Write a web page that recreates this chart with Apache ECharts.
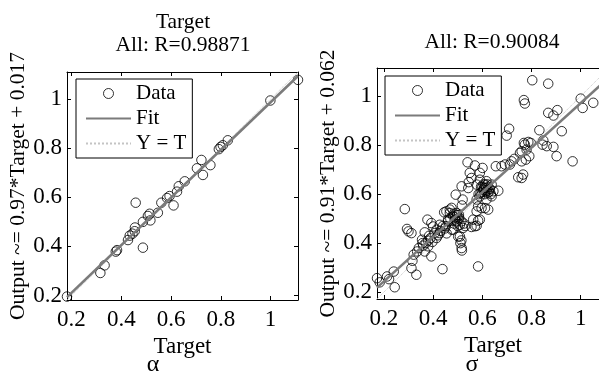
<!DOCTYPE html>
<html>
<head>
<meta charset="utf-8">
<script src="https://cdn.jsdelivr.net/npm/echarts@6.0.0/dist/echarts.min.js"></script>
<style>html,body{margin:0;padding:0;background:#fff}#char{width:599px;height:380px}</style>
</head>
<body>
<div id="char"></div>
<script>
// alpha (left panel)
var alphaTarget = [0.182, 0.316, 0.333, 0.378, 0.383, 0.427, 0.434, 0.445, 0.454, 0.455, 0.458, 0.487, 0.487, 0.507, 0.514, 0.517,
    0.547, 0.561, 0.584, 0.594, 0.610, 0.624, 0.631, 0.655, 0.704, 0.722, 0.728, 0.758, 0.792, 0.799, 0.808, 0.828, 0.999, 1.110];
var alphaOutput = [0.196, 0.292, 0.323, 0.379, 0.385, 0.426, 0.444, 0.452, 0.462, 0.477, 0.578, 0.395, 0.500, 0.524, 0.533, 0.506,
    0.537, 0.578, 0.597, 0.605, 0.567, 0.623, 0.645, 0.665, 0.718, 0.752, 0.691, 0.731, 0.796, 0.805, 0.812, 0.832, 0.994, 1.078];

// sigma (right panel)
var sigmaTarget = [0.172, 0.183, 0.213, 0.221, 0.240, 0.244, 0.285, 0.294, 0.300, 0.312, 0.312, 0.316, 0.332, 0.321, 0.335, 0.342,
    0.357, 0.355, 0.366, 0.366, 0.377, 0.380, 0.384, 0.389, 0.393, 0.393, 0.397, 0.400, 0.407, 0.414, 0.414, 0.420, 0.427, 0.427,
    0.438, 0.445, 0.448, 0.452, 0.455, 0.461, 0.468, 0.468, 0.475, 0.475, 0.482, 0.485, 0.489, 0.490, 0.492, 0.495, 0.498, 0.500,
    0.503, 0.506, 0.509, 0.509, 0.511, 0.515, 0.515, 0.516, 0.517, 0.517, 0.520, 0.522, 0.525, 0.530, 0.454, 0.461, 0.481, 0.502,
    0.516, 0.543, 0.545, 0.549, 0.540, 0.556, 0.563, 0.570, 0.570, 0.577, 0.577, 0.577, 0.583, 0.583, 0.583, 0.585, 0.590, 0.590,
    0.590, 0.595, 0.597, 0.601, 0.600, 0.604, 0.605, 0.610, 0.611, 0.611, 0.615, 0.617, 0.617, 0.620, 0.622, 0.624, 0.625, 0.631,
    0.635, 0.638, 0.638, 0.645, 0.655, 0.665, 0.556, 0.577, 0.590, 0.678, 0.692, 0.699, 0.709, 0.712, 0.719, 0.730, 0.746, 0.753,
    0.760, 0.760, 0.760, 0.766, 0.769, 0.769, 0.773, 0.773, 0.777, 0.780, 0.787, 0.791, 0.797, 0.803, 0.832, 0.845, 0.848, 0.862,
    0.868, 0.868, 0.889, 0.889, 0.902, 0.905, 0.923, 0.967, 1.000, 1.008, 1.051, 0.360, 0.370, 0.380, 0.430, 0.440, 0.495, 0.505,
    0.470, 0.485, 0.600, 0.613, 0.620, 0.628, 0.607, 0.593];
var sigmaOutput = [0.257, 0.240, 0.264, 0.253, 0.284, 0.220, 0.539, 0.458, 0.448, 0.441, 0.298, 0.328, 0.271, 0.353, 0.366, 0.380,
    0.400, 0.414, 0.444, 0.366, 0.496, 0.387, 0.430, 0.420, 0.482, 0.346, 0.405, 0.468, 0.441, 0.421, 0.455, 0.432, 0.441, 0.475,
    0.294, 0.526, 0.460, 0.469, 0.440, 0.496, 0.537, 0.523, 0.455, 0.544, 0.510, 0.520, 0.496, 0.505, 0.598, 0.523, 0.515, 0.470,
    0.500, 0.503, 0.475, 0.427, 0.400, 0.489, 0.411, 0.380, 0.370, 0.554, 0.578, 0.462, 0.480, 0.470, 0.530, 0.489, 0.455, 0.427,
    0.632, 0.625, 0.649, 0.687, 0.730, 0.666, 0.496, 0.469, 0.717, 0.578, 0.639, 0.530, 0.305, 0.492, 0.550, 0.600, 0.591, 0.659,
    0.687, 0.630, 0.543, 0.707, 0.610, 0.618, 0.640, 0.600, 0.639, 0.543, 0.625, 0.653, 0.578, 0.615, 0.605, 0.537, 0.630, 0.621,
    0.600, 0.639, 0.591, 0.612, 0.714, 0.614, 0.466, 0.471, 0.496, 0.714, 0.721, 0.839, 0.867, 0.721, 0.734, 0.744, 0.669, 0.768,
    0.775, 0.734, 0.666, 0.680, 0.809, 0.984, 0.970, 0.802, 0.741, 0.782, 0.813, 0.755, 0.809, 1.065, 0.861, 0.802, 0.819, 0.796,
    1.051, 0.932, 0.921, 0.793, 0.755, 0.943, 0.857, 0.734, 0.990, 0.952, 0.973, 0.390, 0.400, 0.410, 0.450, 0.470, 0.490, 0.515,
    0.500, 0.480, 0.630, 0.610, 0.640, 0.610, 0.625, 0.605];

var tickValues = [0.2, 0.4, 0.6, 0.8, 1];
var alphaRange = [0.182, 1.11];
var sigmaRange = [0.172, 1.115];
var alphaFit = [0.97, 0.017];   // slope, intercept
var sigmaFit = [0.91, 0.062];

var serif = "'Liberation Serif', 'Times New Roman', 'DejaVu Serif', serif";
var dom = document.getElementById('char');
var myChart = echarts.init(dom, null, {renderer: 'canvas'});

function pairs(xs, ys) {
    var out = [];
    for (var i = 0; i < xs.length; i++) out.push([xs[i], ys[i]]);
    return out;
}
function fitLine(range, fit) {
    return [[range[0], fit[0] * range[0] + fit[1]], [range[1], fit[0] * range[1] + fit[1]]];
}
function tickFmt(v) {
    return String(Math.round(v * 10) / 10);
}
function axis(g, range, pos, opts) {
    var main = pos === 'bottom' || pos === 'left';
    var a = {
        gridIndex: g, type: 'value', min: range[0], max: range[1], position: pos,
        axisLine: {show: true, onZero: false, lineStyle: {color: '#000', width: 1}},
        axisTick: {show: true, inside: true, length: 4, customValues: tickValues, lineStyle: {color: '#000', width: 1}},
        axisLabel: {show: main, customValues: tickValues, formatter: tickFmt, fontFamily: serif, fontSize: 23, color: '#000', margin: pos === 'bottom' ? 8 : 5},
        splitLine: {show: false}
    };
    if (opts) for (var k in opts) a[k] = opts[k];
    return a;
}
function nameStyle(size) {
    return {fontFamily: serif, fontSize: size, color: '#000'};
}
function legend(left, top) {
    return {
        left: left, top: top, orient: 'vertical', selectedMode: false,
        data: [
            {name: 'Data', itemStyle: {borderWidth: 1, borderColor: '#000', color: 'rgba(0,0,0,0)'}},
            {name: 'Fit', itemStyle: {opacity: 0}},
            {name: 'Y = T', itemStyle: {opacity: 0}}
        ],
        backgroundColor: '#fff', borderColor: '#000', borderWidth: 1, borderRadius: 0,
        padding: [4, 6, 4, 9], itemGap: 4, itemWidth: 45, itemHeight: 10,
        textStyle: {fontFamily: serif, fontSize: 21, color: '#000'}
    };
}
function panelSeries(xi, yi, xs, ys, range, fit) {
    return [
        {type: 'scatter', name: 'Data', xAxisIndex: xi, yAxisIndex: yi, symbol: 'circle', symbolSize: 9.5,
            itemStyle: {color: 'rgba(0,0,0,0)', borderColor: '#000', borderWidth: 1}, data: pairs(xs, ys), z: 3},
        {type: 'line', name: 'Fit', xAxisIndex: xi, yAxisIndex: yi, symbol: 'none',
            lineStyle: {color: '#7b7b7b', width: 2.6}, itemStyle: {color: '#7b7b7b'}, data: fitLine(range, fit), z: 4},
        {type: 'line', name: 'Y = T', xAxisIndex: xi, yAxisIndex: yi, symbol: 'none',
            lineStyle: {color: '#c4c4c4', width: 1, type: 'dotted'}, itemStyle: {color: '#c4c4c4'}, data: [[range[0], range[0]], [range[1], range[1]]], z: 2}
    ];
}
function label(text, x, y, size) {
    return {type: 'text', x: x, y: y, silent: true,
        style: {text: text, textAlign: 'center', textVerticalAlign: 'middle', font: size + 'px ' + serif, fill: '#000'}};
}

option = {
    animation: false,
    backgroundColor: '#fff',
    grid: [
        {left: 67, top: 72, width: 231, height: 228, outerBoundsMode: 'none'},
        {left: 377, top: 68, width: 232, height: 231, outerBoundsMode: 'none'}
    ],
    xAxis: [
        axis(0, alphaRange, 'bottom', {name: 'Target', nameLocation: 'middle', nameGap: 24, nameTextStyle: nameStyle(23)}),
        axis(0, alphaRange, 'top'),
        axis(1, sigmaRange, 'bottom', {name: 'Target', nameLocation: 'middle', nameGap: 24, nameTextStyle: nameStyle(23)}),
        axis(1, sigmaRange, 'top')
    ],
    yAxis: [
        axis(0, alphaRange, 'left', {name: 'Output ~= 0.97*Target + 0.017', nameLocation: 'middle', nameRotate: 90, nameGap: 29, nameTextStyle: nameStyle(21.5)}),
        axis(0, alphaRange, 'right'),
        axis(1, sigmaRange, 'left', {name: 'Output ~= 0.91*Target + 0.062', nameLocation: 'middle', nameRotate: 90, nameGap: 38, nameTextStyle: nameStyle(21.5)}),
        axis(1, sigmaRange, 'right')
    ],
    legend: [legend(76, 79), legend(385, 76)],
    graphic: [
        label('Target', 183, 22, 21.5),
        label('All: R=0.98871', 183, 45, 21.5),
        label('All: R=0.90084', 492, 42, 21.5),
        label('\u03b1', 153, 365, 24),
        label('\u03c3', 472, 365, 24)
    ],
    series: panelSeries(0, 0, alphaTarget, alphaOutput, alphaRange, alphaFit)
        .concat(panelSeries(2, 2, sigmaTarget, sigmaOutput, sigmaRange, sigmaFit))
};
myChart.setOption(option);
</script>
</body>
</html>
